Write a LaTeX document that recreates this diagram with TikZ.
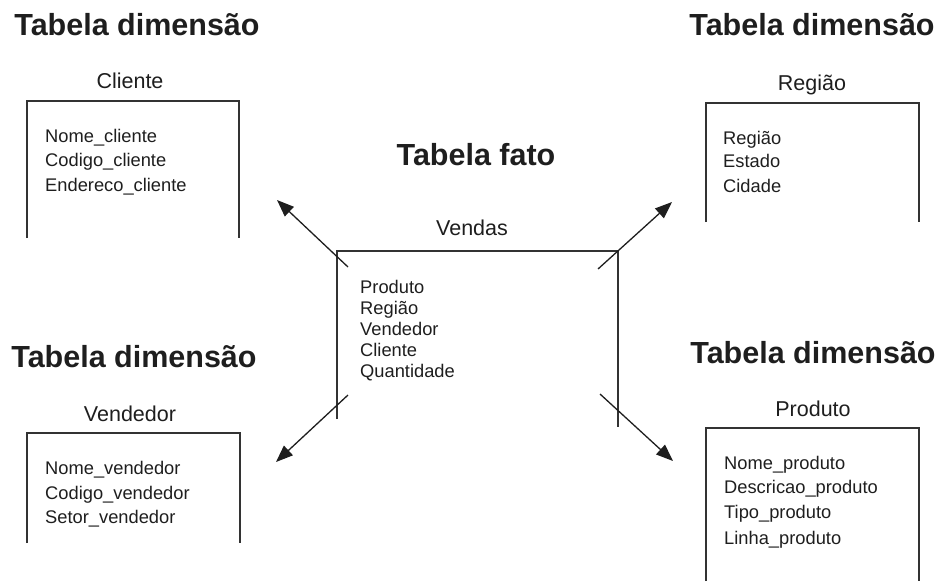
\documentclass[tikz,border=0pt]{standalone}
\usepackage{fontspec}
\setmainfont{Liberation Sans}
\usetikzlibrary{arrows.meta}
\definecolor{ink}{HTML}{1E1E1E}
\definecolor{rule}{HTML}{333333}
\begin{document}
\begin{tikzpicture}[x=1pt,y=-1pt,
  heading/.style={inner sep=0pt, anchor=base, text=ink, font=\fontsize{30.5}{34}\selectfont\bfseries},
  tabletitle/.style={inner sep=0pt, anchor=base, text=ink, font=\fontsize{21.5}{24}\selectfont},
  field/.style={inner sep=0pt, anchor=base west, text=ink, font=\fontsize{18.3}{22}\selectfont},
  frame/.style={draw=rule, line width=1.4pt},
  link/.style={draw=ink, line width=1.3pt, -{Triangle[length=17pt,width=13pt]}}]
\useasboundingbox (0,0) rectangle (939,581);

% headings
\node[heading] (hcli) at (137,35) {Tabela dimensão};
\node[heading] (hreg) at (812,35) {Tabela dimensão};
\node[heading] (hven) at (134,367) {Tabela dimensão};
\node[heading] (hpro) at (813,363) {Tabela dimensão};
\node[heading] (hfat) at (476,165) {Tabela fato};

% Cliente (open at the bottom)
\node[tabletitle] (tcli) at (130,88) {Cliente};
\draw[frame] (27,238) -- (27,101) -- (239,101) -- (239,238);
\node[field] (c1) at (45,142) {Nome\_cliente};
\node[field] (c2) at (45,166) {Codigo\_cliente};
\node[field] (c3) at (45,191) {Endereco\_cliente};

% Região
\node[tabletitle] (treg) at (812,90) {Região};
\draw[frame] (706,222) -- (706,103) -- (919,103) -- (919,222);
\node[field] (r1) at (723,144) {Região};
\node[field] (r2) at (723,167) {Estado};
\node[field] (r3) at (723,192) {Cidade};

% Vendedor
\node[tabletitle] (tven) at (130,421) {Vendedor};
\draw[frame] (27,543) -- (27,433) -- (240,433) -- (240,543);
\node[field] (v1) at (45,474) {Nome\_vendedor};
\node[field] (v2) at (45,499) {Codigo\_vendedor};
\node[field] (v3) at (45,523) {Setor\_vendedor};

% Produto
\node[tabletitle] (tpro) at (813,416) {Produto};
\draw[frame] (706,581) -- (706,428) -- (919,428) -- (919,581);
\node[field] (p1) at (724,469) {Nome\_produto};
\node[field] (p2) at (724,493) {Descricao\_produto};
\node[field] (p3) at (724,518) {Tipo\_produto};
\node[field] (p4) at (724,544) {Linha\_produto};

% Vendas (fact table)
\node[tabletitle] (tfat) at (472,235) {Vendas};
\draw[frame] (337,419) -- (337,251) -- (618,251) -- (618,427);
\node[field] (f1) at (360,293) {Produto};
\node[field] (f2) at (360,314) {Região};
\node[field] (f3) at (360,335) {Vendedor};
\node[field] (f4) at (360,356) {Cliente};
\node[field] (f5) at (360,377) {Quantidade};

% connector end points
\coordinate (sNW) at (348,267);
\coordinate (eNW) at (277,200);
\coordinate (sNE) at (598,269);
\coordinate (eNE) at (672,202);
\coordinate (sSW) at (348,395);
\coordinate (eSW) at (276,462);
\coordinate (sSE) at (600,394);
\coordinate (eSE) at (673,461);

\draw[link] (sNW) -- (eNW);
\draw[link] (sNE) -- (eNE);
\draw[link] (sSW) -- (eSW);
\draw[link] (sSE) -- (eSE);
\end{tikzpicture}
\end{document}
